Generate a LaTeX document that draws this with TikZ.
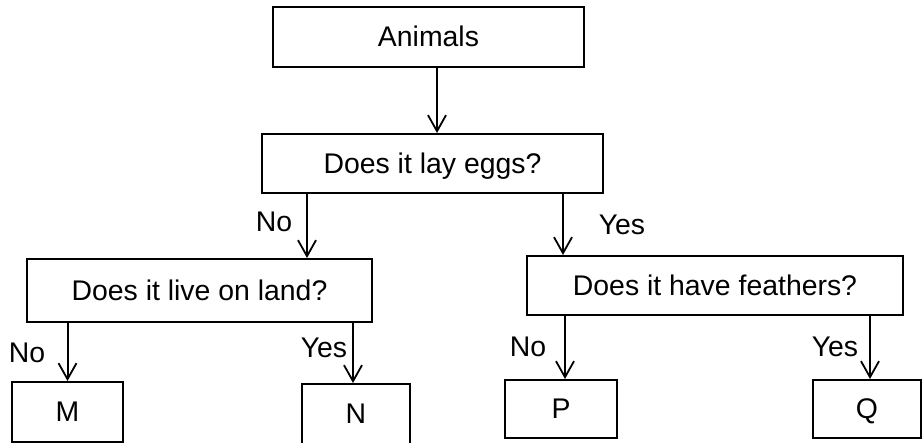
\documentclass[tikz,border=0pt]{standalone}
\usepackage{fontspec}
\setmainfont{Liberation Sans}
\usetikzlibrary{arrows.meta}
\begin{document}
\begin{tikzpicture}[x=0.5pt,y=-0.5pt,
  box/.style={draw=black,line width=1pt,inner sep=0pt,text height=10.5pt,text depth=0.5pt,font=\fontsize{14.2}{17}\selectfont},
  lbl/.style={inner sep=0pt,text height=10.5pt,text depth=0.5pt,font=\fontsize{14.2}{17}\selectfont},
  arr/.style={line width=1pt,-{Straight Barb[length=8pt,width=9pt,line width=0.9pt]}}]
\useasboundingbox (0,0) rectangle (922,443);
\node[box,minimum width=155.5pt,minimum height=30pt] (animals) at (428.5,37) {Animals};
\node[box,minimum width=170.5pt,minimum height=29.5pt] (eggs) at (432.5,163.5) {Does it lay eggs?};
\node[box,minimum width=172.5pt,minimum height=31.5pt] (land) at (199.5,290.5) {Does it live on land?};
\node[box,minimum width=188pt,minimum height=29.5pt] (feathers) at (715,285.5) {Does it have feathers?};
\node[box,minimum width=55.5pt,minimum height=30pt] (m) at (67.5,412) {M};
\node[box,minimum width=54pt,minimum height=30pt] (n) at (356,414) {N};
\node[box,minimum width=56pt,minimum height=29pt] (p) at (561,409) {P};
\node[box,minimum width=54pt,minimum height=29pt] (q) at (867,409) {Q};
\draw[arr] ([xshift=4.25pt]animals.south) -- ([xshift=4.25pt]animals.south |- eggs.north);
\draw[arr] ([xshift=-62.75pt]eggs.south) -- ([xshift=-62.75pt]eggs.south |- land.north);
\draw[arr] ([xshift=65.25pt]eggs.south) -- ([xshift=65.25pt]eggs.south |- feathers.north);
\draw[arr] (land.south -| m.north) -- (m.north);
\draw[arr] ([xshift=-1.5pt]n.north |- land.south) -- ([xshift=-1.5pt]n.north);
\draw[arr] ([xshift=2pt]p.north |- feathers.south) -- ([xshift=2pt]p.north);
\draw[arr] ([xshift=1.5pt]q.north |- feathers.south) -- ([xshift=1.5pt]q.north);
\node[lbl] (l1) at (274,222) {No};
\node[lbl] (l2) at (622,225) {Yes};
\node[lbl] (l3) at (27,353) {No};
\node[lbl] (l4) at (324,348) {Yes};
\node[lbl] (l5) at (528,347) {No};
\node[lbl] (l6) at (835,347) {Yes};
\end{tikzpicture}
\end{document}
